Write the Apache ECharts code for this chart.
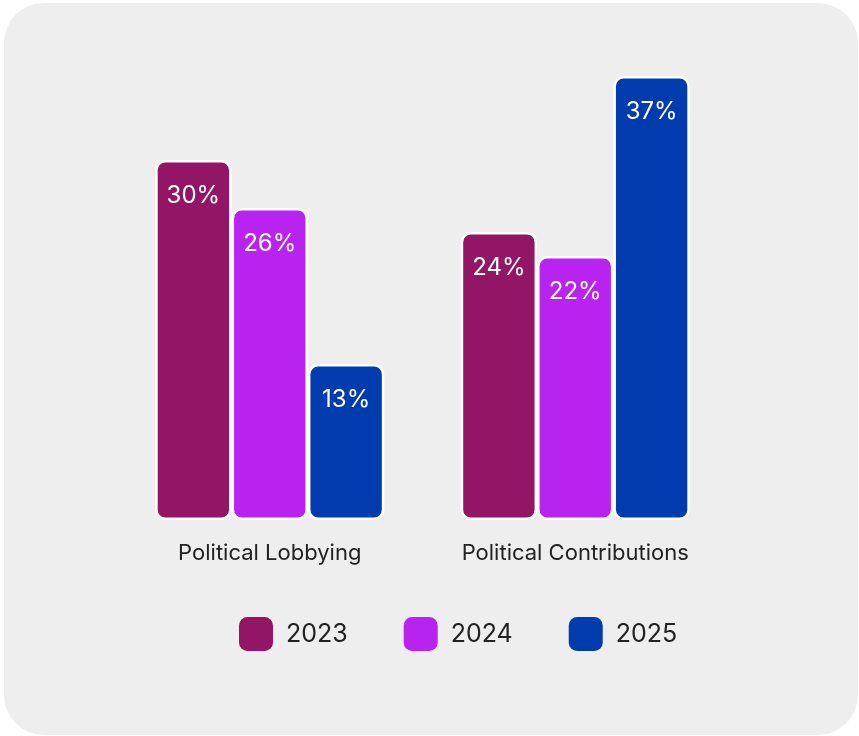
<!DOCTYPE html>
<html>
<head>
<meta charset="utf-8">
<script src="https://cdn.jsdelivr.net/npm/echarts@6/dist/echarts.min.js"></script>
<style>
  html, body { margin: 0; padding: 0; background: #ffffff; }
  #chart { width: 859px; height: 736px; }
</style>
</head>
<body>
<div id="chart"></div>
<script>
// data
var categories = ["Political Lobbying", "Political Contributions"];
var years = ["2023", "2024", "2025"];
var values2023 = [30, 24];
var values2024 = [26, 22];
var values2025 = [13, 37];
var colors = ["#921665", "#B823F0", "#003CAD"];

var font = "Inter";
var seriesData = [values2023, values2024, values2025];

var series = years.map(function (y, i) {
  return {
    name: y,
    type: "bar",
    data: seriesData[i],
    barGap: "0%",
    barCategoryGap: "25%",
    itemStyle: {
      color: colors[i],
      borderColor: "#ffffff",
      borderWidth: 2.5,
      borderRadius: 9
    },
    label: {
      show: true,
      position: "insideTop",
      distance: 24,
      formatter: "{c}%",
      color: "#ffffff",
      fontSize: 24,
      fontFamily: font
    }
  };
});

var myChart = echarts.init(document.getElementById("chart"));
var option = {
  animation: false,
  color: colors,
  graphic: [
    {
      type: "rect",
      z: -10,
      silent: true,
      shape: { x: 4, y: 3, width: 854, height: 732, r: 40 },
      style: { fill: "#eeeeee" }
    }
  ],
  grid: { left: 117, right: 131, top: 40, bottom: 216, containLabel: false },
  xAxis: {
    type: "category",
    data: categories,
    axisLine: { show: false },
    axisTick: { show: false },
    axisLabel: { color: "#222222", fontSize: 22, fontFamily: font, margin: 22 }
  },
  yAxis: {
    type: "value",
    min: 0,
    max: 40,
    show: false,
    splitLine: { show: false }
  },
  legend: {
    data: years,
    left: 234,
    top: 612,
    itemWidth: 34,
    itemHeight: 34,
    itemGap: 56,
    icon: "roundRect",
    itemStyle: { borderWidth: 0 },
    textStyle: { color: "#222222", fontSize: 25, fontFamily: font, padding: [0, 0, 0, 8] }
  },
  series: series
};
myChart.setOption(option);
</script>
</body>
</html>
